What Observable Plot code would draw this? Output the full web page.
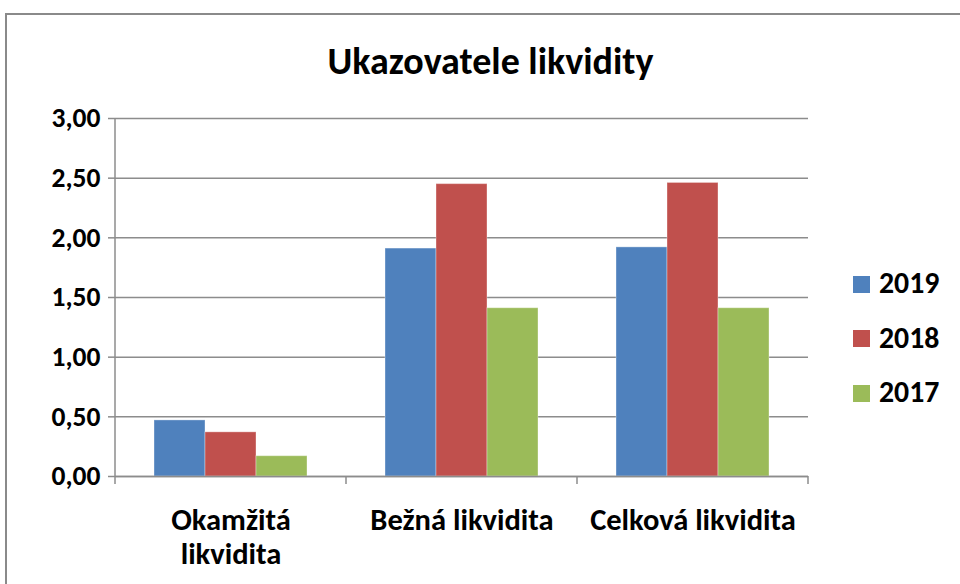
<!DOCTYPE html>
<html>
<head>
<meta charset="utf-8">
<script src="https://cdn.jsdelivr.net/npm/d3@7"></script>
<script src="https://cdn.jsdelivr.net/npm/@observablehq/plot@0.6"></script>
<style>
  html, body { margin: 0; padding: 0; background: #fff; }
  body { width: 960px; height: 584px; position: relative; overflow: hidden;
         font-family: Carlito, "Liberation Sans Narrow", "Liberation Sans", sans-serif; }
  #frame { position: absolute; left: 5px; top: 13px; width: 1000px; height: 700px;
           border: 2px solid #8a8a8a; box-sizing: border-box; }
  #title { position: absolute; left: 5px; width: 971px; top: 42px; text-align: center;
           font-size: 38px; line-height: 1; font-weight: bold; color: #000; white-space: nowrap; }
  #chart { position: absolute; left: 0; top: 0; }
  #legend { position: absolute; left: 853px; top: 257px; }
  .item { display: flex; align-items: center; height: 54.5px; font-size: 29.8px; font-weight: bold; line-height: 1; }
  .sw { width: 17px; height: 17px; margin-right: 9px; }
</style>
</head>
<body>
<div id="frame"></div>
<div id="chart"></div>
<div id="title">Ukazovatele likvidity</div>
<div id="legend"></div>
<script>
const categories = ["Okamžitá likvidita", "Bežná likvidita", "Celková likvidita"];
const tickLabels = ["Okamžitá\nlikvidita", "Bežná likvidita", "Celková likvidita"];
const years = ["2019", "2018", "2017"];
const colors = ["#4F81BD", "#C0504D", "#9BBB59"];
const values2019 = [0.47, 1.91, 1.92];
const values2018 = [0.37, 2.45, 2.46];
const values2017 = [0.17, 1.41, 1.41];
const yTicks = [0, 0.5, 1, 1.5, 2, 2.5, 3];

const series = {"2019": values2019, "2018": values2018, "2017": values2017};
const data = [];
categories.forEach((c, i) => years.forEach(y => data.push({cat: c, year: y, value: series[y][i]})));

const fmt = d => d3.format(".2f")(d).replace(".", ",");
const font = 'Carlito, "Liberation Sans Narrow", "Liberation Sans", sans-serif';

const plot = Plot.plot({
  width: 960,
  height: 584,
  marginTop: 118,
  marginBottom: 108,
  marginLeft: 115,
  marginRight: 152,
  style: {fontFamily: font, background: "transparent", color: "#000"},
  fx: {domain: categories, padding: 0},
  x: {domain: years, paddingInner: 0, paddingOuter: 0.73, axis: null},
  y: {domain: [0, 3]},
  color: {domain: years, range: colors},
  marks: [
    Plot.gridY(yTicks, {stroke: "#8c8c8c", strokeOpacity: 1, strokeWidth: 1.5}),
    Plot.barY(data, {fx: "cat", x: "year", y: "value", fill: "year", stroke: "#ffffff", strokeOpacity: 0.35, strokeWidth: 1}),
    Plot.ruleY([0], {stroke: "#8c8c8c", strokeWidth: 1.5}),
    Plot.axisY({ticks: yTicks, tickFormat: fmt, label: null, tickSize: 7, tickPadding: 8, fontSize: 27.5, fontWeight: "bold", stroke: "#8c8c8c", strokeWidth: 1.5, fill: "#000"}),
    Plot.axisFx({anchor: "bottom", label: null, tickSize: 0, tickPadding: 30, tickFormat: (d) => tickLabels[categories.indexOf(d)], fontSize: 30.5, fontWeight: "bold", lineHeight: 1.1, fill: "#000"})
  ]
});
document.getElementById("chart").appendChild(plot);

// y axis line and category boundary ticks from the plot's own scales
const fx = plot.scale("fx");
const ys = plot.scale("y");
const svg = d3.select(plot);
const y0 = ys.apply(0), y3 = ys.apply(3);
const x0 = fx.apply(categories[0]);
const g = svg.append("g").attr("stroke", "#8c8c8c").attr("stroke-width", 1.5);
g.append("line").attr("x1", x0).attr("x2", x0).attr("y1", y3).attr("y2", y0);
const bounds = categories.map(c => fx.apply(c)).concat([fx.apply(categories[categories.length - 1]) + fx.bandwidth]);
bounds.forEach(b => g.append("line").attr("x1", b).attr("x2", b).attr("y1", y0).attr("y2", y0 + 8));

const legend = document.getElementById("legend");
years.forEach((y, i) => {
  const it = document.createElement("div");
  it.className = "item";
  it.innerHTML = `<div class="sw" style="background:${colors[i]}"></div><span>${y}</span>`;
  legend.appendChild(it);
});
</script>
</body>
</html>
